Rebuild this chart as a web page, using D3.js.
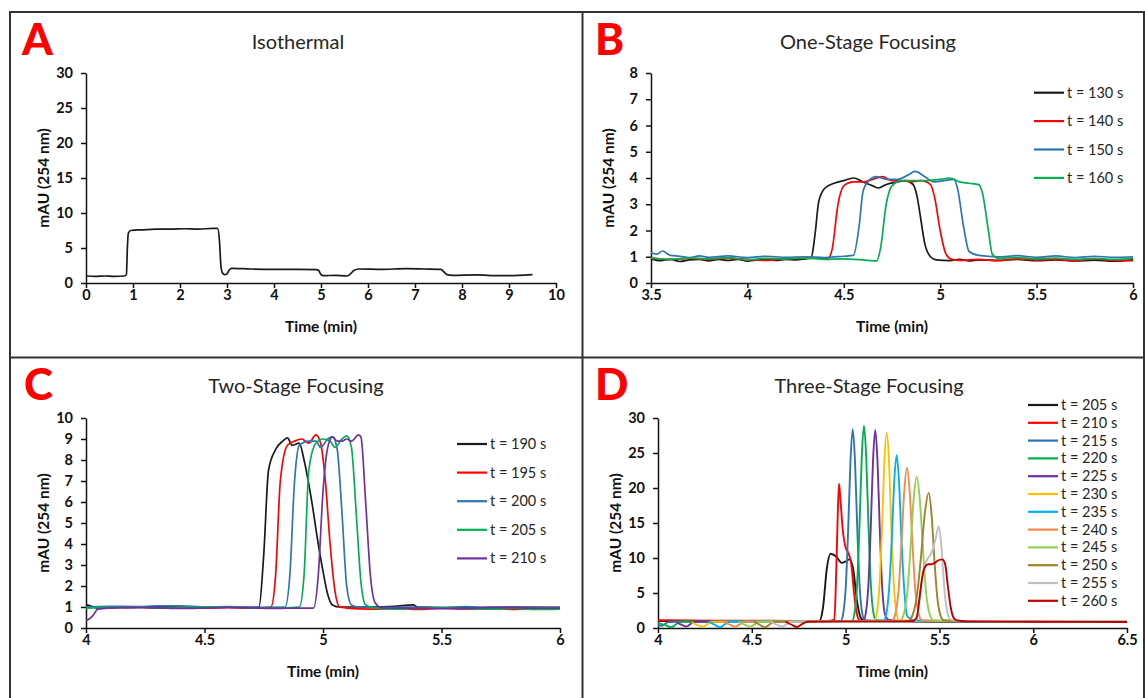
<!DOCTYPE html>
<html>
<head>
<meta charset="utf-8">
<script src="https://cdn.jsdelivr.net/npm/d3@7"></script>
<style>
  body { margin: 0; background: #fff; }
  svg { display: block; font-family: Lato, "Open Sans", sans-serif; }
</style>
</head>
<body>
<svg id="fig" width="1145" height="698"></svg>
<script>
// ---- A: isothermal ----
var isoTrace = [[0,1.0],[0.2,0.95],[0.4,1.0],[0.6,0.95],[0.82,1.0],[0.86,1.2],[0.88,5],[0.9,7.1],[0.95,7.5],[1.2,7.6],[1.5,7.7],[1.8,7.7],[2.1,7.75],[2.4,7.7],[2.7,7.8],[2.8,7.8],[2.84,6],[2.87,2.5],[2.9,1.5],[2.95,1.2],[3.0,1.3],[3.05,1.9],[3.1,2.1],[3.5,2.0],[4.0,1.95],[4.5,1.95],[4.9,1.9],[4.95,1.8],[5.0,1.2],[5.05,1.05],[5.3,1.1],[5.55,1.0],[5.6,1.15],[5.7,1.8],[5.8,2.0],[6.3,1.95],[6.8,2.05],[7.2,2.0],[7.55,1.95],[7.6,1.7],[7.68,1.2],[7.8,1.1],[8.3,1.15],[8.8,1.05],[9.2,1.1],[9.5,1.2]];
var isoXTicks = [0,1,2,3,4,5,6,7,8,9,10];
var isoYTicks = [0,5,10,15,20,25,30];

// ---- B: one-stage focusing ----
var oneNames = ["t = 130 s", "t = 140 s", "t = 150 s", "t = 160 s"];
var one130 = [[3.5,0.92],[3.55,0.85],[3.6,0.9],[3.65,0.82],[3.7,0.88],[3.75,0.9],[3.8,0.84],[3.85,0.9],[3.9,0.86],[3.95,0.9],[4.0,0.83],[4.05,0.88],[4.1,0.9],[4.15,0.86],[4.2,0.9],[4.25,0.88],[4.3,0.92],[4.33,0.95],[4.35,1.8],[4.37,3.1],[4.4,3.6],[4.45,3.8],[4.5,3.9],[4.55,4.0],[4.6,3.85],[4.65,3.7],[4.68,3.62],[4.72,3.75],[4.78,3.85],[4.82,3.9],[4.86,3.75],[4.88,3.3],[4.9,2.4],[4.92,1.5],[4.95,1.0],[4.98,0.88],[5.05,0.85],[5.1,0.9],[5.15,0.84],[5.2,0.88],[5.3,0.86],[5.4,0.9],[5.5,0.85],[5.6,0.88],[5.7,0.84],[5.8,0.87],[5.9,0.83],[6.0,0.88]];
var one140 = [[3.5,0.95],[3.6,0.9],[3.7,0.94],[3.8,0.9],[3.9,0.95],[4.0,0.9],[4.1,0.86],[4.2,0.93],[4.3,0.95],[4.42,0.95],[4.44,1.3],[4.47,3.0],[4.5,3.7],[4.55,3.85],[4.6,3.85],[4.65,3.95],[4.7,4.05],[4.75,3.9],[4.8,3.9],[4.85,3.85],[4.9,3.9],[4.95,3.75],[4.97,3.3],[5.0,2.0],[5.03,1.1],[5.06,0.9],[5.1,0.86],[5.2,0.9],[5.3,0.85],[5.4,0.92],[5.5,0.88],[5.6,0.9],[5.7,0.85],[5.8,0.92],[5.9,0.86],[6.0,0.85]];
var one150 = [[3.5,1.15],[3.53,1.1],[3.56,1.22],[3.6,1.05],[3.65,1.02],[3.7,0.97],[3.75,1.03],[3.8,0.98],[3.9,1.03],[4.0,0.97],[4.1,1.02],[4.2,0.98],[4.3,1.0],[4.4,0.97],[4.5,1.02],[4.55,1.05],[4.58,2.2],[4.6,3.5],[4.63,3.9],[4.67,4.05],[4.72,3.95],[4.78,3.95],[4.83,4.1],[4.87,4.25],[4.92,4.05],[4.97,3.85],[5.02,3.9],[5.07,3.95],[5.09,3.6],[5.12,2.2],[5.15,1.2],[5.2,1.05],[5.3,1.0],[5.4,1.04],[5.5,0.98],[5.6,1.03],[5.7,0.97],[5.8,1.02],[5.9,0.98],[6.0,1.0]];
var one160 = [[3.5,0.95],[3.6,0.9],[3.7,0.96],[3.8,0.92],[3.9,0.97],[4.0,0.88],[4.1,0.94],[4.2,0.92],[4.3,0.95],[4.4,0.9],[4.5,0.92],[4.6,0.88],[4.67,0.84],[4.69,1.3],[4.72,3.0],[4.75,3.7],[4.8,3.9],[4.9,3.9],[5.0,3.95],[5.05,4.0],[5.1,3.85],[5.15,3.8],[5.2,3.75],[5.22,3.4],[5.25,2.0],[5.27,1.1],[5.3,0.95],[5.4,0.97],[5.5,0.92],[5.6,0.95],[5.7,0.9],[5.8,0.94],[5.9,0.9],[6.0,0.95]];
var oneXTicks = [3.5,4,4.5,5,5.5,6];
var oneYTicks = [0,1,2,3,4,5,6,7,8];

// ---- C: two-stage focusing ----
var twoNames = ["t = 190 s", "t = 195 s", "t = 200 s", "t = 205 s", "t = 210 s"];
var two190 = [[4.0,1.1],[4.02,1.05],[4.05,0.95],[4.1,1.0],[4.2,0.97],[4.3,1.03],[4.4,1.0],[4.5,0.97],[4.6,1.01],[4.7,0.98],[4.73,1.0],[4.75,3.5],[4.77,7.5],[4.8,8.5],[4.83,8.9],[4.85,9.05],[4.87,8.7],[4.9,8.8],[4.92,8.0],[4.95,6.2],[4.98,4.0],[5.0,2.7],[5.02,1.6],[5.04,1.1],[5.07,1.0],[5.2,1.0],[5.3,1.03],[5.38,1.1],[5.4,1.0],[5.6,0.97],[5.8,1.0],[6.0,0.98]];
var two195 = [[4.0,1.0],[4.1,0.96],[4.2,0.99],[4.3,0.94],[4.4,1.0],[4.5,0.95],[4.6,0.97],[4.7,0.94],[4.78,1.0],[4.8,2.5],[4.82,7.0],[4.85,8.7],[4.88,8.9],[4.91,9.0],[4.94,8.8],[4.97,9.2],[4.99,8.8],[5.01,7.0],[5.03,4.0],[5.05,1.8],[5.07,1.0],[5.1,0.95],[5.2,0.9],[5.3,0.93],[5.4,0.88],[5.5,0.95],[5.6,0.9],[5.7,0.92],[5.8,0.89],[5.9,0.93],[6.0,0.95]];
var two200 = [[4.0,1.0],[4.1,1.03],[4.2,1.02],[4.3,1.05],[4.4,1.06],[4.5,1.0],[4.6,1.02],[4.7,0.98],[4.84,1.0],[4.86,2.5],[4.88,7.0],[4.9,8.7],[4.94,8.9],[4.97,8.9],[4.99,8.6],[5.02,9.0],[5.04,9.1],[5.06,8.5],[5.08,5.5],[5.1,2.0],[5.12,1.1],[5.15,1.0],[5.3,0.98],[5.4,1.0],[5.5,0.97],[5.6,1.02],[5.7,0.98],[5.8,1.0],[5.9,0.96],[6.0,0.97]];
var two205 = [[4.0,0.95],[4.1,0.98],[4.2,1.0],[4.3,0.96],[4.4,0.97],[4.5,0.99],[4.6,1.0],[4.7,0.96],[4.8,0.95],[4.9,1.0],[4.92,2.5],[4.94,7.5],[4.97,8.8],[5.0,9.0],[5.03,8.9],[5.05,8.6],[5.08,9.0],[5.1,9.15],[5.12,8.6],[5.14,5.5],[5.16,2.2],[5.18,1.1],[5.22,0.95],[5.3,0.9],[5.4,0.93],[5.5,0.96],[5.6,0.92],[5.7,0.9],[5.8,0.93],[5.9,0.88],[6.0,0.9]];
var two210 = [[4.0,0.35],[4.01,0.4],[4.03,0.6],[4.05,0.9],[4.1,0.95],[4.2,0.98],[4.3,0.97],[4.4,0.93],[4.5,0.95],[4.6,0.98],[4.7,0.96],[4.8,0.93],[4.9,0.95],[4.96,0.95],[4.98,2.5],[5.0,6.5],[5.02,8.6],[5.04,9.1],[5.06,8.9],[5.08,8.9],[5.1,9.0],[5.12,8.9],[5.15,9.2],[5.16,9.1],[5.18,6.0],[5.2,2.5],[5.22,1.2],[5.25,0.95],[5.4,0.95],[5.5,0.92],[5.6,0.93],[5.7,0.97],[5.8,0.97],[5.9,0.94],[6.0,0.95]];
var twoXTicks = [4,4.5,5,5.5,6];
var twoYTicks = [0,1,2,3,4,5,6,7,8,9,10];

// ---- D: three-stage focusing ----
var threeNames = ["t = 205 s", "t = 210 s", "t = 215 s", "t = 220 s", "t = 225 s", "t = 230 s", "t = 235 s", "t = 240 s", "t = 245 s", "t = 250 s", "t = 255 s", "t = 260 s"];
var three205 = [[4.0,1.0],[4.3,1.0],[4.6,1.0],[4.8,0.95],[4.86,1.0],[4.88,3],[4.9,8.5],[4.92,10.6],[4.95,10.2],[4.98,9.3],[5.0,9.5],[5.02,9.8],[5.04,8.5],[5.06,4],[5.08,1.5],[5.1,1.0],[5.3,0.95],[5.6,0.9],[6.0,0.9],[6.5,0.9]];
var three210 = [[4.0,1.1],[4.3,1.05],[4.6,1.05],[4.9,1.0],[4.94,1.2],[4.95,8],[4.958,16],[4.965,20.6],[4.972,18.5],[4.985,14],[5.0,11.5],[5.015,10.7],[5.03,9.2],[5.045,5],[5.06,2],[5.075,1.1],[5.1,1.0],[5.4,1.0],[5.8,0.95],[6.5,0.95]];
var three215 = [[4.0,0.4],[4.02,0.3],[4.05,0.8],[4.1,0.9],[4.5,0.95],[4.9,0.95],[4.974,1.0],[4.988,2.2],[5.002,6.4],[5.014,14.3],[5.026,23.9],[5.038,28.4],[5.05,23.9],[5.062,14.3],[5.074,6.4],[5.088,2.2],[5.102,1.1],[5.2,1.0],[5.6,0.95],[6.0,0.95],[6.5,0.95]];
var three220 = [[4.0,0.7],[4.04,0.4],[4.07,0.1],[4.1,0.6],[4.12,0.9],[4.5,0.92],[4.9,0.95],[5.034,1.0],[5.048,2.2],[5.062,6.5],[5.074,14.6],[5.086,24.3],[5.098,28.9],[5.11,24.3],[5.122,14.6],[5.134,6.5],[5.148,2.2],[5.162,1.1],[5.3,1.0],[5.8,0.95],[6.5,0.95]];
var three225 = [[4.1,0.8],[4.13,0.4],[4.15,0.2],[4.18,0.7],[4.2,0.9],[4.6,0.95],[5.0,0.95],[5.094,1.0],[5.108,2.2],[5.122,6.4],[5.134,14.3],[5.146,23.8],[5.158,28.3],[5.17,23.8],[5.182,14.3],[5.194,6.4],[5.208,2.2],[5.222,1.3],[5.24,1.1],[5.3,1.0],[5.8,0.95],[6.5,0.95]];
var three230 = [[4.18,0.8],[4.21,0.4],[4.24,0.2],[4.27,0.7],[4.29,0.9],[4.7,0.95],[5.1,0.95],[5.152,1.0],[5.167,2.2],[5.181,6.3],[5.194,14.1],[5.206,23.5],[5.219,27.9],[5.232,23.5],[5.244,14.1],[5.257,6.3],[5.271,2.2],[5.286,1.1],[5.4,1.0],[6.0,0.95],[6.5,0.95]];
var three235 = [[4.27,0.9],[4.3,0.5],[4.33,0.1],[4.36,0.6],[4.38,0.9],[4.8,0.95],[5.15,0.95],[5.202,1.0],[5.217,2.0],[5.232,5.7],[5.246,12.5],[5.259,20.8],[5.272,24.7],[5.285,20.8],[5.298,12.5],[5.312,5.7],[5.325,2.0],[5.335,1.5],[5.345,1.4],[5.36,1.1],[5.5,1.0],[6.0,0.95],[6.5,0.95]];
var three240 = [[4.35,0.9],[4.38,0.5],[4.41,0.2],[4.44,0.6],[4.46,0.9],[4.9,0.95],[5.2,0.95],[5.247,1.0],[5.265,2.0],[5.282,5.3],[5.297,11.7],[5.312,19.3],[5.327,22.9],[5.342,19.3],[5.357,11.7],[5.372,5.3],[5.39,2.0],[5.407,1.1],[5.5,1.0],[6.0,0.95],[6.5,0.95]];
var three245 = [[4.43,0.9],[4.46,0.5],[4.49,0.2],[4.52,0.6],[4.54,0.9],[5.0,0.95],[5.25,0.95],[5.289,1.0],[5.309,1.9],[5.329,5.1],[5.345,11.0],[5.362,18.2],[5.379,21.6],[5.396,18.2],[5.413,11.0],[5.429,5.1],[5.449,1.9],[5.469,1.1],[5.6,1.0],[6.0,0.95],[6.5,0.95]];
var three250 = [[4.51,0.9],[4.54,0.5],[4.57,0.1],[4.6,0.6],[4.62,0.9],[5.0,0.95],[5.3,0.95],[5.333,1.0],[5.356,1.8],[5.38,4.6],[5.401,9.9],[5.422,16.3],[5.443,19.3],[5.458,16.3],[5.473,9.9],[5.488,4.6],[5.506,1.8],[5.523,1.1],[5.6,1.0],[6.0,0.95],[6.5,0.95]];
var three255 = [[4.6,0.9],[4.63,0.5],[4.66,0.2],[4.69,0.6],[4.71,0.9],[5.1,0.95],[5.35,0.95],[5.375,1.1],[5.39,3],[5.405,6.5],[5.42,8.8],[5.435,9.8],[5.45,10.4],[5.465,11.2],[5.48,12.8],[5.496,14.5],[5.508,12.5],[5.52,8],[5.532,4],[5.545,2],[5.56,1.2],[5.6,1.0],[6.0,1.0],[6.5,1.0]];
var three260 = [[4.68,0.9],[4.71,0.5],[4.74,0.15],[4.77,0.6],[4.8,0.9],[5.0,0.95],[5.3,0.95],[5.36,1.0],[5.38,1.6],[5.395,4.5],[5.41,7.5],[5.425,8.8],[5.44,9.1],[5.46,9.1],[5.475,9.3],[5.49,9.6],[5.515,9.8],[5.53,9.2],[5.545,6],[5.56,3],[5.575,1.5],[5.59,1.1],[5.65,0.95],[6.0,0.9],[6.5,0.85]];
var threeXTicks = [4,4.5,5,5.5,6,6.5];
var threeYTicks = [0,5,10,15,20,25,30];

var colors = ["#1a1a1a", "#ff0000", "#2e75b6", "#00b050", "#7030a0", "#ffc000",
              "#00b0f0", "#f4894b", "#92d050", "#a0822a", "#bfbfbf", "#c00000"];

var svg = d3.select("#fig");
svg.append("rect").attr("width", 1145).attr("height", 698).attr("fill", "#fff");

function drawPanel(p) {
    var g = svg.append("g");
    var x = d3.scaleLinear().domain(p.xDomain).range([p.left, p.right]);
    var y = d3.scaleLinear().domain(p.yDomain).range([p.bottom, p.top]);

    g.append("g")
        .attr("transform", "translate(0," + p.bottom + ")")
        .call(d3.axisBottom(x).tickValues(p.xTicks).tickFormat(d3.format("~g"))
            .tickSize(5).tickSizeOuter(0).tickPadding(2));
    g.append("g")
        .attr("transform", "translate(" + p.left + ",0)")
        .call(d3.axisLeft(y).tickValues(p.yTicks).tickFormat(d3.format("~g"))
            .tickSize(5).tickSizeOuter(0).tickPadding(8));
    g.selectAll(".domain, .tick line").attr("stroke", "#111").attr("stroke-width", 1.5);
    g.selectAll(".tick text")
        .attr("font-family", "Lato, sans-serif")
        .attr("font-size", 14.5).attr("font-weight", 700).attr("fill", "#111");

    var line = d3.line()
        .x(d => x(d[0])).y(d => y(d[1]))
        .curve(d3.curveMonotoneX);
    g.selectAll("path.trace")
        .data(p.series)
        .join("path")
        .attr("class", "trace")
        .attr("d", d => line(d.values))
        .attr("fill", "none")
        .attr("stroke", d => d.color)
        .attr("stroke-width", p.lw)
        .attr("stroke-linejoin", "round");

    // title, letter, axis labels
    g.append("text").attr("x", (p.titleX)).attr("y", p.titleY).attr("dy", "0.35em")
        .attr("text-anchor", "middle").attr("font-size", 20).attr("fill", "#262626")
        .text(p.title);
    g.append("text").attr("x", p.letterX).attr("y", p.letterY)
        .attr("font-size", 44).attr("font-weight", 900).attr("fill", "#ff0000")
        .text(p.letter);
    g.append("text").attr("x", p.xLabelX).attr("y", p.xLabelY).attr("dy", "0.35em")
        .attr("text-anchor", "middle").attr("font-size", 15.5).attr("font-weight", 700).attr("fill", "#111")
        .text("Time (min)");
    g.append("text")
        .attr("transform", "translate(" + (p.left - 42) + "," + ((p.top + p.bottom) / 2) + ") rotate(-90)")
        .attr("dy", "0.35em").attr("text-anchor", "middle")
        .attr("font-size", 15.5).attr("font-weight", 700).attr("fill", "#111")
        .text("mAU (254 nm)");

    if (p.legend) {
        var lg = g.selectAll("g.leg")
            .data(p.series)
            .join("g")
            .attr("class", "leg")
            .attr("transform", (d, i) => "translate(" + p.legend.x + "," + (p.legend.y + i * p.legend.step) + ")");
        lg.append("line").attr("x1", 0).attr("x2", 30).attr("stroke", d => d.color).attr("stroke-width", 2.2);
        lg.append("text").attr("x", 33).attr("dy", "0.35em")
            .attr("font-size", 14.5).attr("fill", "#262626")
            .text(d => d.name);
    }
}

function makeSeries(names, arrays) {
    return names.map((n, i) => ({ name: n, values: arrays[i], color: colors[i] }));
}

drawPanel({
    letter: "A", letterX: 22, letterY: 55, title: "Isothermal", titleX: 298, titleY: 42,
    left: 86, right: 556, top: 73, bottom: 283, xDomain: [0, 10], yDomain: [0, 30],
    xTicks: isoXTicks, yTicks: isoYTicks, xLabelX: 321, xLabelY: 327, lw: 1.7,
    series: [{ name: "isothermal", values: isoTrace, color: colors[0] }]
});
drawPanel({
    letter: "B", letterX: 595, letterY: 55, title: "One-Stage Focusing", titleX: 868, titleY: 42,
    left: 651, right: 1133, top: 73, bottom: 283, xDomain: [3.5, 6], yDomain: [0, 8],
    xTicks: oneXTicks, yTicks: oneYTicks, xLabelX: 892, xLabelY: 327, lw: 1.7,
    series: makeSeries(oneNames, [one130, one140, one150, one160]),
    legend: { x: 1034, y: 92.7, step: 28.4 }
});
drawPanel({
    letter: "C", letterX: 24, letterY: 400, title: "Two-Stage Focusing", titleX: 296, titleY: 386,
    left: 86, right: 560, top: 418, bottom: 628, xDomain: [4, 6], yDomain: [0, 10],
    xTicks: twoXTicks, yTicks: twoYTicks, xLabelX: 323, xLabelY: 672, lw: 1.7,
    series: makeSeries(twoNames, [two190, two195, two200, two205, two210]),
    legend: { x: 457, y: 444, step: 28.6 }
});
var dSeries = makeSeries(threeNames, [three205, three210, three215, three220, three225, three230,
    three235, three240, three245, three250, three255, three260]);
drawPanel({
    letter: "D", letterX: 595, letterY: 400, title: "Three-Stage Focusing", titleX: 869, titleY: 386,
    left: 658, right: 1127, top: 418, bottom: 628, xDomain: [4, 6.5], yDomain: [0, 30],
    xTicks: threeXTicks, yTicks: threeYTicks, xLabelX: 892, xLabelY: 672, lw: 1.9,
    series: dSeries,
    legend: { x: 1028, y: 405, step: 17.8 }
});

// panel frame and dividers
var frame = svg.append("g").attr("stroke", "#333").attr("stroke-width", 2).attr("fill", "none");
frame.append("rect").attr("x", 10).attr("y", 12).attr("width", 1134).attr("height", 700);
frame.append("line").attr("x1", 582.5).attr("x2", 582.5).attr("y1", 12).attr("y2", 698);
frame.append("line").attr("x1", 10).attr("x2", 1145).attr("y1", 357.5).attr("y2", 357.5);
</script>
</body>
</html>
